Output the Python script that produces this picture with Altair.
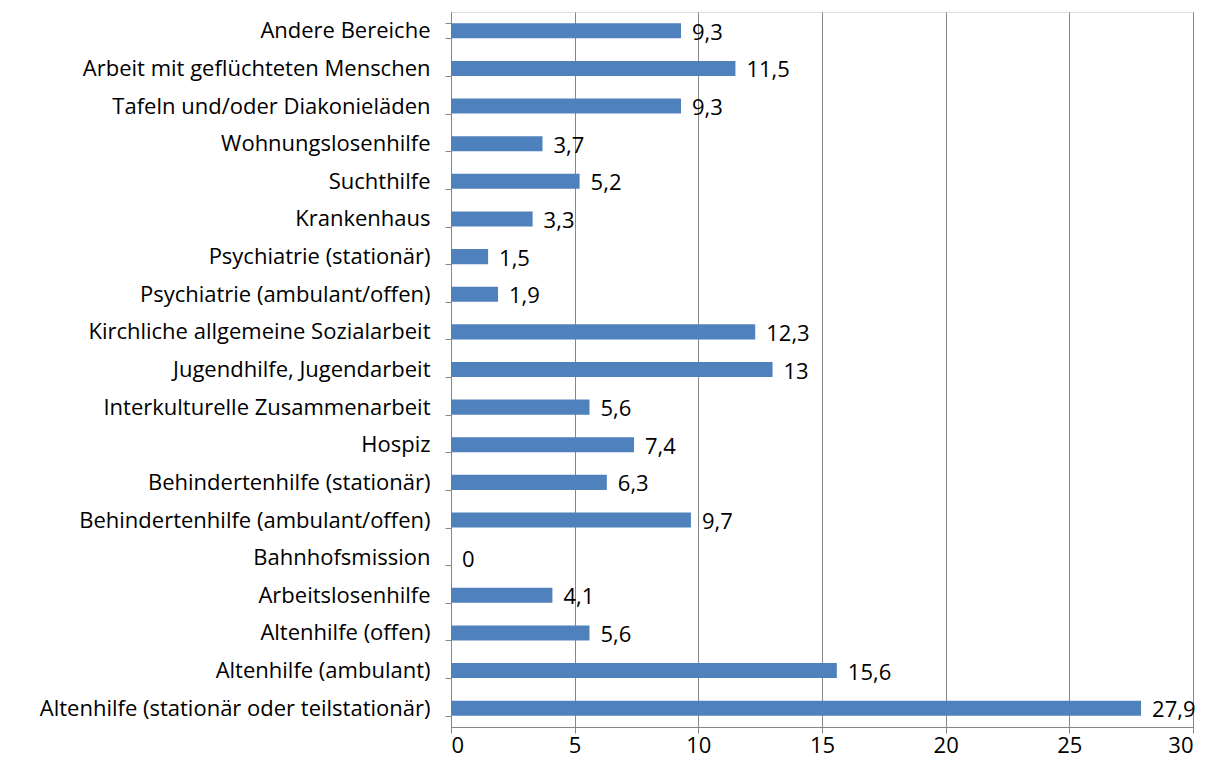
import altair as alt
import pandas as pd

categories = [
    "Andere Bereiche",
    "Arbeit mit geflüchteten Menschen",
    "Tafeln und/oder Diakonieläden",
    "Wohnungslosenhilfe",
    "Suchthilfe",
    "Krankenhaus",
    "Psychiatrie (stationär)",
    "Psychiatrie (ambulant/offen)",
    "Kirchliche allgemeine Sozialarbeit",
    "Jugendhilfe, Jugendarbeit",
    "Interkulturelle Zusammenarbeit",
    "Hospiz",
    "Behindertenhilfe (stationär)",
    "Behindertenhilfe (ambulant/offen)",
    "Bahnhofsmission",
    "Arbeitslosenhilfe",
    "Altenhilfe (offen)",
    "Altenhilfe (ambulant)",
    "Altenhilfe (stationär oder teilstationär)",
]
values = [9.3, 11.5, 9.3, 3.7, 5.2, 3.3, 1.5, 1.9, 12.3, 13, 5.6, 7.4, 6.3, 9.7, 0, 4.1, 5.6, 15.6, 27.9]
x_ticks = [0, 5, 10, 15, 20, 25, 30]

df = pd.DataFrame({"cat": categories, "val": values})
df["label"] = [("%g" % v).replace(".", ",") for v in values]

FONT = "Open Sans"
FS = 22

y_enc = alt.Y(
    "cat:N",
    sort=categories,
    title=None,
    scale=alt.Scale(paddingInner=0.6, paddingOuter=0.3),
    axis=alt.Axis(
        labelFont=FONT,
        labelFontSize=FS,
        labelColor="#000000",
        labelLimit=600,
        labelPadding=15,
        tickBand="extent",
        tickSize=6,
        tickColor="#868686",
        domainColor="#868686",
        grid=False,
    ),
)

x_enc = alt.X(
    "val:Q",
    title=None,
    scale=alt.Scale(domain=[0, 30], nice=False),
    axis=alt.Axis(
        values=x_ticks,
        labelFont=FONT,
        labelFontSize=FS,
        labelColor="#000000",
        labelPadding=2,
        tickSize=6,
        tickColor="#868686",
        domainColor="#868686",
        grid=True,
        gridColor="#868686",
        gridWidth=1,
    ),
)

bars = alt.Chart(df).mark_bar(color="#4F81BD").encode(x=x_enc, y=y_enc)

labels = alt.Chart(df).mark_text(
    align="left", baseline="middle", dx=11, dy=2, font=FONT, fontSize=FS, color="#000000"
).encode(x="val:Q", y=alt.Y("cat:N", sort=categories), text="label:N")

chart = (
    alt.layer(bars, labels)
    .properties(
        width=742,
        height=715,
        autosize=alt.AutoSizeParams(type="none"),
        padding={"left": 443, "top": 4, "right": 13, "bottom": 37},
    )
    .configure_view(stroke=None)
    .configure(background="#ffffff")
)

chart.save("out.html", embed_options={"renderer": "svg", "actions": False})
